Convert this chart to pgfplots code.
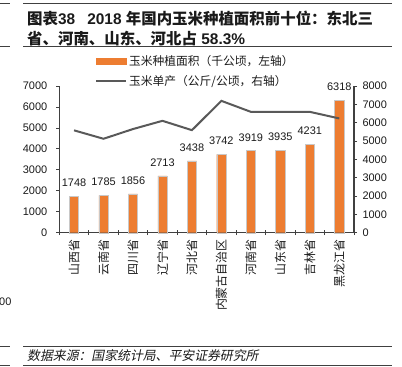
\documentclass[border=0pt]{standalone}
\usepackage{fontspec}
\setmainfont{Liberation Sans}
\newfontfamily\cjk{Noto Sans CJK SC}
\newfontfamily\cjkit{Noto Sans CJK SC}[FakeSlant=0.2]
\usepackage{pgfplots}
\pgfplotsset{compat=1.18}
\definecolor{barorange}{HTML}{ED7D31}
\definecolor{linegray}{HTML}{595959}
\definecolor{axisgray}{HTML}{404040}
\definecolor{txt}{HTML}{1A1A1A}
\begin{document}
\begin{tikzpicture}[x=1bp,y=1bp]
\useasboundingbox (0,0) rectangle (402,-367);
% rules
\foreach \yy in {3.5,46.5,346,365}{
  \draw[axisgray, line width=0.9bp] (23,-\yy) -- (392,-\yy);
  \draw[axisgray, line width=0.9bp] (0,-\yy) -- (10,-\yy);
}
\node[anchor=base west, inner sep=0pt, text=txt, font=\fontsize{15.5}{17}\selectfont\bfseries] at (27,-24.5)
  {{\cjk 图表}38\hspace{12bp}2018 {\cjk 年国内玉米种植面积前十位：东北三}};
\node[anchor=base west, inner sep=0pt, text=txt, font=\fontsize{15.5}{17}\selectfont\bfseries] at (27,-44)
  {{\cjk 省、河南、山东、河北占} 58.3\%};
\node[anchor=base west, inner sep=0pt, text=txt, font=\cjkit\fontsize{12.9}{14}\selectfont] at (27,-360)
  {数据来源：国家统计局、平安证券研究所};
\node[anchor=base west, inner sep=0pt, text=txt, font=\fontsize{11}{13}\selectfont] at (-1,-305) {00};

\begin{axis}[
  at={(59.3bp,-232.7bp)}, anchor=south west,
  scale only axis, width=294.7bp, height=146.5bp,
  xmin=-0.5, xmax=9.5, ymin=0, ymax=7000,
  axis y line*=left, axis x line*=bottom,
  axis line style={axisgray, line width=1.3bp},
  tick style={axisgray, line width=1bp},
  tick align=outside, major tick length=3bp, minor tick length=5bp,
  ytick={0,1000,...,7000},
  xtick={0,...,9},
  xticklabels={山西省,云南省,四川省,辽宁省,河北省,内蒙古自治区,河南省,山东省,吉林省,黑龙江省},
  major x tick style={draw=none},
  minor xtick={-0.5,0.5,...,9.5},
  minor x tick style={yshift=2.5bp},
  xticklabel style={rotate=90, anchor=east, font=\cjk\fontsize{12}{13}\selectfont, text=txt},
  yticklabel style={font=\fontsize{11}{13}\selectfont, text=txt, xshift=-5.5bp},
  /pgf/number format/1000 sep={},
  /pgf/number format/assume math mode=true,
  point meta=explicit symbolic,
  nodes near coords,
  nodes near coords style={font=\fontsize{11}{13}\selectfont, text=txt, anchor=south, yshift=6bp},
  clip=false,
]
\addplot[ybar, bar width=9.3bp, fill=barorange, draw={rgb,255:red,200;green,200;blue,200}, line width=0.4bp]
  coordinates {(0,1748)[1748] (1,1785)[1785] (2,1856)[1856] (3,2713)[2713] (4,3438)[3438]
               (5,3742)[3742] (6,3919)[3919] (7,3935)[3935] (8,4231)[4231] (9,6318)[6318]};
\end{axis}

\begin{axis}[
  at={(59.3bp,-232.7bp)}, anchor=south west,
  scale only axis, width=294.7bp, height=146.5bp,
  xmin=-0.5, xmax=9.5, ymin=0, ymax=8000,
  axis y line*=right, axis x line=none,
  axis line style={axisgray, line width=1.3bp},
  tick style={axisgray, line width=1bp},
  tick align=outside, major tick length=3bp,
  ytick={0,1000,...,8000},
  yticklabel style={font=\fontsize{11}{13}\selectfont, text=txt, xshift=2bp},
  /pgf/number format/1000 sep={},
  /pgf/number format/assume math mode=true,
  legend style={at={(0.121,1.225)}, anchor=north west, draw=none, fill=none, inner sep=0pt,
    row sep=4.5bp, font=\cjk\fontsize{11.8}{13}\selectfont, text=txt},
  legend cell align=left,
  clip=false,
]
\addlegendimage{legend image code/.code={\fill[barorange] (0bp,-3bp) rectangle (30bp,3bp);}}
\addlegendentry{玉米种植面积（千公顷，左轴）}
\addplot[linegray, line width=2bp, mark=none,
  legend image code/.code={\draw[linegray, line width=2bp] (0bp,0bp) -- (30bp,0bp);}]
  coordinates {(0,5590) (1,5130) (2,5660) (3,6110) (4,5600) (5,7200) (6,6600) (7,6600) (8,6600) (9,6240)};
\addlegendentry{玉米单产（公斤/公顷，右轴）}
\end{axis}
\end{tikzpicture}
\end{document}
